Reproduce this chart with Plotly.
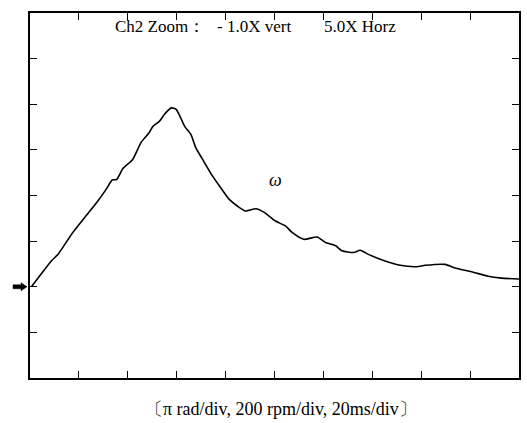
import plotly.graph_objects as go

# time (ms), 20 ms/div
t_ms = [0.6, 4, 8.8, 11.6, 17, 22.4, 27.2, 31.2, 33.6, 35.4, 38, 42, 45.4, 48.8,
        50.2, 53, 55, 57.8, 59.8, 63.2, 65.8, 67.8, 70.6, 74.6, 78, 81.4, 84.8,
        88.2, 92.4, 95.8, 100.4, 104.6, 107.2, 112, 117.4, 120.8, 125, 127.6,
        132.4, 135, 138.4, 143.8, 151.4, 158.2, 161.6, 169.8, 173.8, 180.6,
        187.4, 192.8, 200]
# omega in divisions (pi rad/div)
omega_div = [0, 0.24, 0.57, 0.72, 1.15, 1.52, 1.84, 2.14, 2.34, 2.35, 2.59, 2.79,
             3.16, 3.38, 3.51, 3.63, 3.78, 3.92, 3.89, 3.52, 3.34, 3.05, 2.79,
             2.43, 2.17, 1.92, 1.77, 1.66, 1.71, 1.63, 1.44, 1.33, 1.19, 1.04,
             1.09, 0.97, 0.90, 0.79, 0.75, 0.80, 0.71, 0.59, 0.47, 0.44, 0.47,
             0.49, 0.41, 0.33, 0.23, 0.19, 0.17]

title_parts = ["Ch2 Zoom：", "- 1.0X vert", "5.0X Horz"]
caption = "〔π rad/div, 200 rpm/div, 20ms/div〕"
curve_label = "ω"

SERIF = "Liberation Serif, Times New Roman, serif"

fig = go.Figure()
fig.add_trace(go.Scatter(x=t_ms, y=omega_div, mode="lines",
                         line=dict(color="black", width=1.6, shape="spline", smoothing=0.6),
                         showlegend=False, hoverinfo="skip"))

axis_common = dict(showline=True, linecolor="black", linewidth=1.5, mirror="ticks",
                   ticks="inside", ticklen=7, tickwidth=1.3, tickcolor="black",
                   showticklabels=False, showgrid=False, zeroline=False)
fig.update_xaxes(range=[0, 200], dtick=20, tick0=0, **axis_common)
fig.update_yaxes(range=[-2, 6], dtick=1, tick0=0, **axis_common)

anns = []
for txt, xp in zip(title_parts, [0.169, 0.379, 0.597]):
    anns.append(dict(text=txt, xref="paper", yref="paper", x=xp, y=0.962,
                     xanchor="left", yanchor="middle", showarrow=False,
                     font=dict(family=SERIF, size=17, color="black")))
anns.append(dict(text=caption, xref="paper", yref="paper", x=0.513, y=-0.085,
                 xanchor="center", yanchor="middle", showarrow=False,
                 font=dict(family=SERIF, size=18, color="black")))
anns.append(dict(text="<i>" + curve_label + "</i>", x=100.6, y=2.33,
                 xanchor="center", yanchor="middle", showarrow=False,
                 font=dict(family=SERIF, size=18, color="black")))

# zero-level arrow marker on the left of the frame
fig.add_shape(type="path", xref="paper", yref="y", xsizemode="pixel", ysizemode="pixel",
              xanchor=0, yanchor=0,
              path="M -17,-2 L -9,-2 L -9,-4 L -3,0 L -9,4 L -9,2 L -17,2 Z",
              fillcolor="black", line=dict(color="black", width=0.5), layer="above")

fig.update_layout(width=527, height=423, margin=dict(l=30, r=6, t=13, b=45),
                  paper_bgcolor="white", plot_bgcolor="white", annotations=anns)

fig.write_html("out.html")
